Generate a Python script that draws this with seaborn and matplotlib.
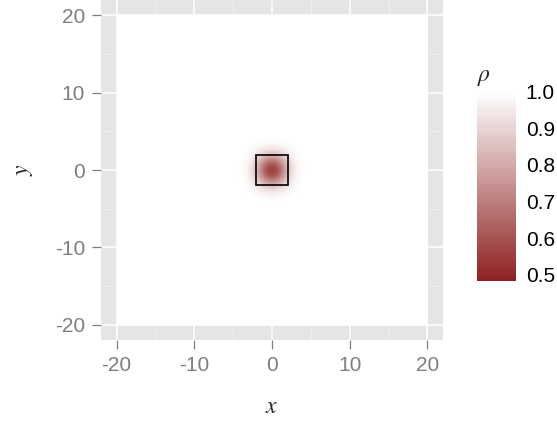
import numpy as np
import matplotlib
matplotlib.use("Agg")
import matplotlib.pyplot as plt
import seaborn as sns
from matplotlib.patches import Rectangle
from matplotlib.ticker import MultipleLocator

# field values: 1.0 everywhere on [-20, 20]^2 except a dip around the origin
field_extent = [-20, 20, -20, 20]
field_level = [[1.0]]

# centre patch, cell centres at -4..4 (step 1)
dip_extent = [-4.5, 4.5, -4.5, 4.5]
dip_quadrant = [
    [0.484, 0.60, 0.84, 0.97, 1.0],
    [0.60, 0.70, 0.88, 0.98, 1.0],
    [0.84, 0.88, 0.95, 0.99, 1.0],
    [0.97, 0.98, 0.99, 1.0, 1.0],
    [1.0, 1.0, 1.0, 1.0, 1.0],
]
box_x = [-2, 2]
box_y = [-2, 2]
rho_min, rho_max = 0.484, 1.0
rho_ticks = [0.5, 0.6, 0.7, 0.8, 0.9, 1.0]
axis_ticks = [-20, -10, 0, 10, 20]

q = np.array(dip_quadrant)
half = np.hstack([q[:, :0:-1], q])
dip = np.vstack([half[:0:-1], half])

sns.set_theme(style="darkgrid", rc={
    "axes.facecolor": "#E5E5E5",
    "grid.color": "white",
})
plt.rcParams["font.family"] = ["Liberation Sans", "DejaVu Sans"]
plt.rcParams["mathtext.fontset"] = "stix"

cmap = sns.blend_palette(["#8E2222", "#FFFFFF"], as_cmap=True)

fig = plt.figure(figsize=(5.57, 4.25), dpi=100)
ax = fig.add_axes([0.1813, 0.2, 0.614, 0.8])
cax = fig.add_axes([0.8558, 0.3395, 0.0706, 0.4447])

ax.imshow(field_level, extent=field_extent, cmap=cmap, vmin=rho_min, vmax=rho_max,
          origin="lower", zorder=1, aspect="auto")
im = ax.imshow(dip, extent=dip_extent, cmap=cmap, vmin=rho_min, vmax=rho_max,
               origin="lower", interpolation="bicubic", zorder=2, aspect="auto")
ax.add_patch(Rectangle((box_x[0], box_y[0]), box_x[1] - box_x[0], box_y[1] - box_y[0],
                       fill=False, edgecolor="black", linewidth=1.2, zorder=3))

ax.set_xlim(-22, 22)
ax.set_ylim(-22, 22)
ax.set_xticks(axis_ticks)
ax.set_yticks(axis_ticks)
ax.set_xticklabels([str(t) for t in axis_ticks])
ax.set_yticklabels([str(t) for t in axis_ticks])
ax.xaxis.set_minor_locator(MultipleLocator(5))
ax.yaxis.set_minor_locator(MultipleLocator(5))
ax.grid(which="major", color="white", linewidth=1.1)
ax.grid(which="minor", color="#F2F2F2", linewidth=0.6)
ax.tick_params(which="major", length=6.5, width=0.9, color="#7F7F7F",
               labelcolor="#7F7F7F", labelsize=15, pad=5, bottom=True, left=True)
ax.tick_params(which="minor", length=0)
for s in ax.spines.values():
    s.set_visible(False)
ax.set_xlabel("$x$", fontsize=17, labelpad=15)
ax.set_ylabel("$y$", fontsize=17, labelpad=14, rotation=90)

cb = fig.colorbar(im, cax=cax, ticks=rho_ticks)
cb.outline.set_visible(False)
cax.yaxis.set_ticks_position("both")
cax.tick_params(direction="in", length=6, width=1.2, color="white",
                labelsize=15, labelcolor="black", pad=7, left=True, right=True,
                labelleft=False, labelright=True)
cax.grid(False)
cax.set_title(r"$\rho$", fontsize=17, loc="left", pad=8)

fig.savefig("out.png", dpi=100)
